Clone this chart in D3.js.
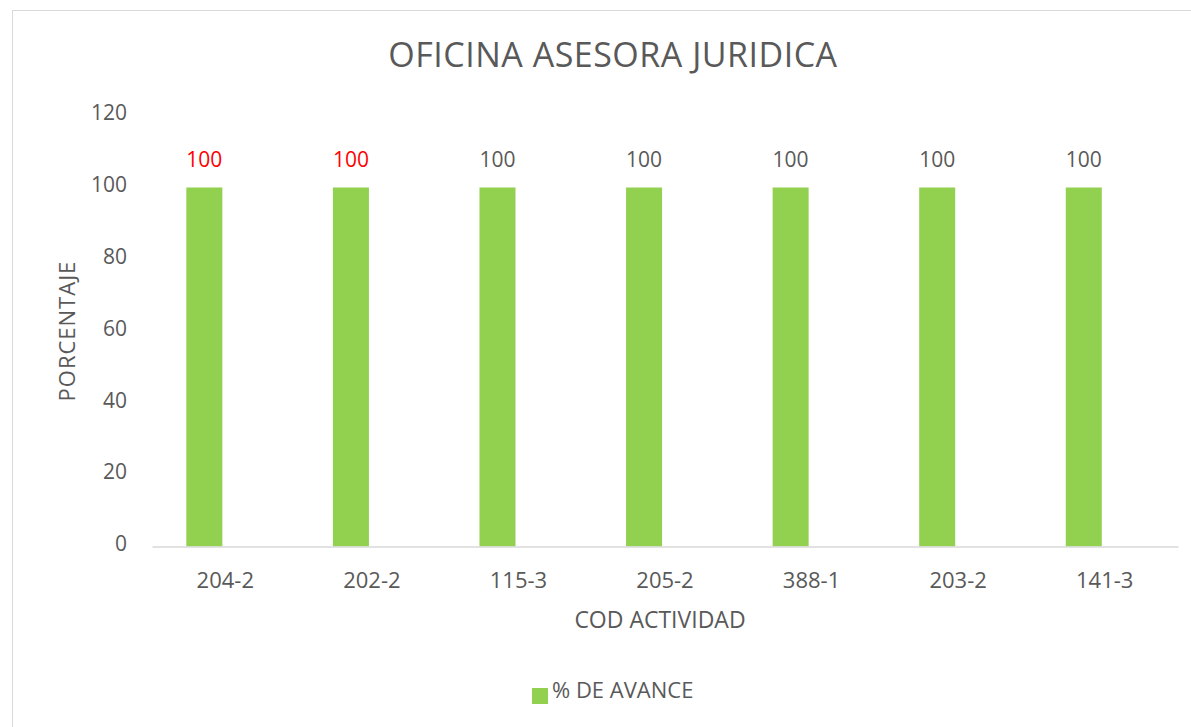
<!DOCTYPE html>
<html>
<head>
<meta charset="utf-8">
<script src="https://cdn.jsdelivr.net/npm/d3@7"></script>
<style>
  body { margin: 0; background: #fff; }
  text { font-family: "Open Sans", sans-serif; fill: #595959; }
</style>
</head>
<body>
<svg width="1191" height="727"></svg>
<script>
// data
var categories = ["204-2", "202-2", "115-3", "205-2", "388-1", "203-2", "141-3"];
var avance = [100, 100, 100, 100, 100, 100, 100];
var flagged = ["204-2", "202-2"]; // labels shown in red
var yTicks = [0, 20, 40, 60, 80, 100, 120];
var seriesNames = ["% DE AVANCE", "(vacio)"];

var svg = d3.select("svg"),
  width = +svg.attr("width"),
  height = +svg.attr("height");

// chart frame (extends past the window on the right / bottom)
svg.append("rect")
  .attr("x", 12.5).attr("y", 10.5)
  .attr("width", 1300).attr("height", 800)
  .attr("fill", "none").attr("stroke", "#d9d9d9");

var pLeft = 152, pRight = 1178, pTop = 115.7, pBottom = 546.5;

var x = d3.scaleBand().domain(categories).range([pLeft, pRight]);
// two slots per category, only the first one is filled
var x1 = d3.scaleBand().domain(seriesNames).range([0, x.bandwidth()])
  .paddingInner(0.14).paddingOuter(0.82);
var y = d3.scaleLinear().domain([0, 120]).range([pBottom, pTop]);

// title
svg.append("text")
  .attr("x", 613).attr("y", 67)
  .attr("text-anchor", "middle")
  .attr("font-size", "34px")
  .attr("letter-spacing", "0.5px")
  .text("OFICINA ASESORA JURIDICA");

// y axis labels
var yAxis = svg.append("g")
  .attr("transform", "translate(" + pLeft + ",0)")
  .call(d3.axisLeft(y).tickValues(yTicks).tickSize(0).tickPadding(25));
yAxis.select(".domain").remove();
yAxis.selectAll("text")
  .attr("font-size", "21px")
  .attr("font-family", "Open Sans, sans-serif")
  .attr("fill", "#595959")
  .attr("dy", "0.2em");

// bars
var rows = categories.map(function (c, i) { return { cat: c, val: avance[i] }; });
svg.append("g").selectAll("rect")
  .data(rows)
  .enter().append("rect")
  .attr("x", function (d) { return x(d.cat) + x1(seriesNames[0]); })
  .attr("y", function (d) { return y(d.val); })
  .attr("width", x1.bandwidth())
  .attr("height", function (d) { return y(0) - y(d.val); })
  .attr("fill", "#92d050");

// value labels
svg.append("g").selectAll("text")
  .data(rows)
  .enter().append("text")
  .attr("x", function (d) { return x(d.cat) + x1(seriesNames[0]) + x1.bandwidth() / 2; })
  .attr("y", function (d) { return y(d.val) - 21; })
  .attr("text-anchor", "middle")
  .attr("font-size", "21px")
  .style("fill", function (d) { return flagged.indexOf(d.cat) >= 0 ? "#ff0000" : "#595959"; })
  .text(function (d) { return d.val; });

// x axis
var xAxis = svg.append("g")
  .attr("transform", "translate(0," + pBottom + ")")
  .call(d3.axisBottom(x).tickSize(0).tickPadding(26));
xAxis.select(".domain").attr("stroke", "#d9d9d9").attr("stroke-width", 1.5);
xAxis.selectAll("text")
  .attr("font-size", "22px")
  .attr("font-family", "Open Sans, sans-serif")
  .attr("fill", "#595959");

// axis titles
svg.append("text")
  .attr("x", (pLeft + pRight) / 2 - 5).attr("y", 628)
  .attr("text-anchor", "middle")
  .attr("font-size", "23px")
  .text("COD ACTIVIDAD");

svg.append("text")
  .attr("transform", "translate(75," + ((pTop + pBottom) / 2) + ") rotate(-90)")
  .attr("text-anchor", "middle")
  .attr("font-size", "22px")
  .attr("letter-spacing", "1px")
  .text("PORCENTAJE");

// legend
var lg = svg.append("g").attr("transform", "translate(532,688)");
lg.append("rect").attr("width", 16).attr("height", 16).attr("fill", "#92d050");
lg.append("text").attr("x", 20).attr("y", 10)
  .attr("font-size", "22px")
  .text(seriesNames[0]);
</script>
</body>
</html>
